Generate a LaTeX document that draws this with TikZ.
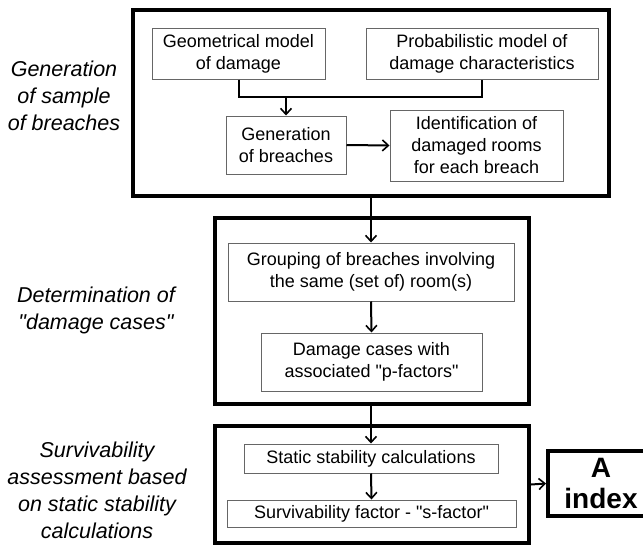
\documentclass[tikz,border=0pt]{standalone}
\usepackage{fontspec}
\setmainfont{Liberation Sans}[Ligatures=TeXOff]
\usetikzlibrary{arrows.meta}
\begin{document}
\begin{tikzpicture}[x=1pt,y=-1pt,
  outerbox/.style={draw=black, line width=4pt, inner sep=0pt},
  inbox/.style={draw=black!60, line width=1pt, align=center, inner sep=0pt,
    font=\fontsize{18}{22}\selectfont},
  sidelabel/.style={align=center, inner sep=0pt, font=\fontsize{21.5}{27}\selectfont\itshape},
  arr/.style={line width=2pt, -{Straight Barb[length=6pt,width=11pt,line width=1.6pt]}},
  ln/.style={line width=2pt}]
\useasboundingbox (0,0) rectangle (643,546);
\begin{scope}
\clip (0,0) rectangle (643,546);
% outer boxes
\node[outerbox, minimum width=476pt, minimum height=186pt] (B1) at (371,103) {};
\node[outerbox, minimum width=314pt, minimum height=186pt] (B2) at (372,311) {};
\node[outerbox, minimum width=314pt, minimum height=117pt] (B3) at (372,484.5) {};
\node[outerbox, minimum width=106pt, minimum height=65pt, align=center,
  font=\fontsize{28}{32}\selectfont\bfseries] (A) at (601,483.5) {A\\index};
% inner boxes
\node[inbox, minimum width=173pt, minimum height=51pt] (geom) at (238.5,53.5) {Geometrical model\\of damage};
\node[inbox, minimum width=232pt, minimum height=51pt] (prob) at (482,53.5) {Probabilistic model of\\damage characteristics};
\node[inbox, minimum width=120pt, minimum height=58pt] (gen) at (286,145) {Generation\\of breaches};
\node[inbox, minimum width=173pt, minimum height=71pt] (ident) at (476.5,145.5) {Identification of\\damaged rooms\\for each breach};
\node[inbox, minimum width=286pt, minimum height=58pt] (group) at (371,272) {Grouping of breaches involving\\the same (set of) room(s)};
\node[inbox, minimum width=221pt, minimum height=58pt] (dcases) at (371.5,362) {Damage cases with\\associated "p-factors"};
\node[inbox, minimum width=254pt, minimum height=29pt] (static) at (371,458.5) {Static stability calculations};
\node[inbox, minimum width=289pt, minimum height=27pt] (surv) at (371.5,513.5) {Survivability factor - "s-factor"};
% side labels
\node[sidelabel] (L1) at (64,96) {Generation\\of sample\\of breaches};
\node[sidelabel] (L2) at (96,310) {Determination of\\"damage cases"};
\node[sidelabel] (L3) at (97,490) {Survivability\\assessment based\\on static stability\\calculations};
% connectors
\coordinate (J) at (286,97);
\draw[ln] (geom.south) -- (geom.south |- J) -- (prob.south |- J) -- (prob.south);
\draw[arr] (J) -- (gen.north);
\draw[arr] (gen.east) -- (ident.west);
\draw[arr] (B1.south -| group.north) -- (group.north);
\draw[arr] (group.south) -- (dcases.north);
\draw[arr] (B2.south -| static.north) -- (static.north);
\draw[arr] (static.south) -- (surv.north);
\draw[arr] (B3.east) -- (A.west);
\end{scope}
\end{tikzpicture}
\end{document}
